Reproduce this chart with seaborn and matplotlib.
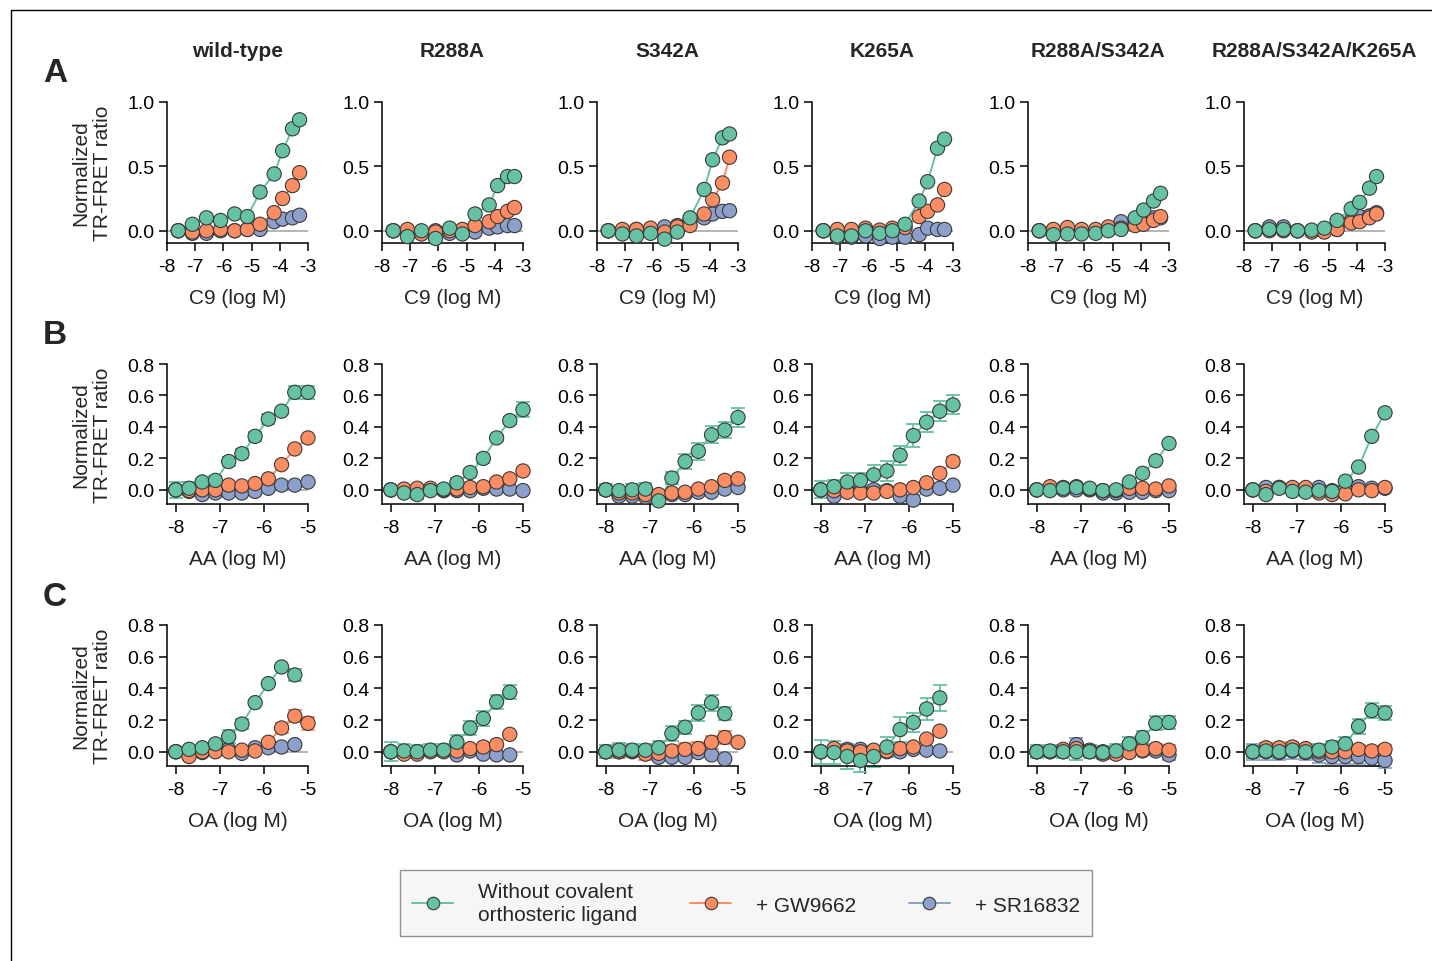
import numpy as np
import pandas as pd
import seaborn as sns
import matplotlib.pyplot as plt
from matplotlib.lines import Line2D

nan = np.nan

# ---- data ----
mutants = ['wild-type', 'R288A', 'S342A', 'K265A', 'R288A/S342A', 'R288A/S342A/K265A']
series_names = ['Without covalent\northosteric ligand', '+ GW9662', '+ SR16832']

c9_x = [-7.6, -7.1, -6.6, -6.1, -5.6, -5.15, -4.7, -4.2, -3.9, -3.55, -3.3]
fa_x = [-8.0, -7.7, -7.4, -7.1, -6.8, -6.5, -6.2, -5.9, -5.6, -5.3, -5.0]

# row A: C9
c9_green = [
    [0.0, 0.05, 0.10, 0.08, 0.13, 0.11, 0.30, 0.44, 0.62, 0.79, 0.86],
    [0.0, -0.045, 0.0, -0.06, 0.02, -0.025, 0.13, 0.20, 0.35, 0.42, 0.42],
    [0.0, -0.025, -0.04, -0.02, -0.065, -0.01, 0.10, 0.32, 0.55, 0.72, 0.75],
    [0.0, -0.04, -0.04, 0.0, -0.02, 0.0, 0.05, 0.23, 0.38, 0.64, 0.71],
    [0.0, -0.03, -0.025, -0.025, -0.02, 0.0, 0.01, 0.10, 0.16, 0.23, 0.29],
    [0.0, 0.01, 0.01, 0.0, 0.005, 0.02, 0.08, 0.17, 0.22, 0.33, 0.42],
]
c9_orange = [
    [0.0, -0.01, 0.0, 0.01, 0.0, 0.01, 0.05, 0.14, 0.25, 0.35, 0.45],
    [0.0, 0.01, -0.025, -0.01, 0.0, 0.01, 0.04, 0.07, 0.11, 0.15, 0.18],
    [0.0, 0.01, 0.01, 0.02, -0.01, 0.03, 0.04, 0.13, 0.24, 0.37, 0.57],
    [0.0, 0.01, 0.01, 0.02, 0.005, 0.02, 0.025, 0.11, 0.15, 0.20, 0.32],
    [0.0, 0.01, 0.025, 0.01, 0.01, 0.03, 0.02, 0.04, 0.05, 0.08, 0.11],
    [0.0, 0.0, 0.0, 0.0, -0.01, -0.01, 0.01, 0.06, 0.07, 0.10, 0.13],
]
c9_blue = [
    [0.0, -0.02, -0.02, 0.0, 0.0, 0.01, 0.01, 0.07, 0.09, 0.10, 0.12],
    [0.0, 0.0, -0.02, 0.0, -0.02, 0.0, -0.01, 0.02, 0.03, 0.04, 0.04],
    [0.0, 0.0, 0.01, 0.01, 0.03, 0.04, 0.08, 0.10, 0.13, 0.15, 0.155],
    [0.0, -0.05, -0.05, -0.04, -0.06, -0.05, -0.05, -0.03, 0.02, 0.01, 0.01],
    [0.0, 0.0, 0.0, 0.0, 0.0, 0.02, 0.07, 0.09, 0.10, 0.10, 0.10],
    [0.0, 0.03, 0.03, 0.0, 0.0, 0.0, 0.01, 0.08, 0.11, 0.115, 0.14],
]
c9_green_err = [
    [0.0, 0.0, 0.0, 0.0, 0.0, 0.0, 0.03, 0.0, 0.0, 0.0, 0.0],
    None, None, None, None, None,
]

# row B: AA
aa_green = [
    [0.0, 0.01, 0.05, 0.06, 0.18, 0.23, 0.34, 0.45, 0.50, 0.62, 0.62],
    [0.0, -0.02, -0.03, -0.005, 0.005, 0.045, 0.11, 0.20, 0.33, 0.44, 0.51],
    [0.0, -0.005, 0.0, 0.005, -0.07, 0.075, 0.18, 0.245, 0.35, 0.38, 0.46],
    [0.0, 0.02, 0.05, 0.06, 0.095, 0.12, 0.22, 0.345, 0.43, 0.50, 0.54],
    [0.0, -0.005, 0.01, 0.015, 0.01, -0.005, 0.0, 0.05, 0.105, 0.185, 0.295],
    [0.0, -0.03, 0.01, -0.01, -0.015, -0.005, -0.01, 0.055, 0.145, 0.34, 0.49],
]
aa_orange = [
    [0.0, -0.005, 0.0, 0.0, 0.03, 0.025, 0.04, 0.07, 0.16, 0.26, 0.33],
    [0.0, 0.005, 0.01, 0.01, 0.0, 0.005, 0.015, 0.02, 0.05, 0.07, 0.12],
    [0.0, -0.02, -0.02, -0.03, -0.03, -0.02, -0.015, 0.005, 0.02, 0.06, 0.07],
    [0.0, -0.005, -0.015, -0.02, -0.02, -0.01, 0.0, 0.015, 0.045, 0.105, 0.18],
    [0.0, 0.02, 0.015, 0.02, 0.005, -0.005, -0.005, 0.01, 0.01, 0.005, 0.025],
    [0.0, -0.01, 0.015, 0.015, 0.015, -0.02, -0.03, -0.025, 0.0, -0.005, 0.015],
]
aa_blue = [
    [0.0, -0.01, -0.03, -0.02, -0.02, -0.02, -0.01, 0.01, 0.03, 0.03, 0.05],
    [0.0, 0.0, -0.005, 0.0, -0.005, -0.005, -0.005, 0.01, 0.005, 0.005, -0.005],
    [0.0, -0.04, -0.04, -0.045, -0.04, -0.03, -0.03, -0.015, -0.015, 0.005, 0.015],
    [0.0, -0.04, -0.005, -0.005, 0.0, -0.005, -0.04, -0.065, 0.005, 0.01, 0.03],
    [0.0, 0.0, 0.0, 0.0, 0.0, -0.02, -0.02, -0.015, -0.015, -0.005, -0.005],
    [0.0, 0.015, 0.015, 0.005, -0.005, 0.015, -0.005, 0.005, 0.02, 0.01, 0.01],
]
aa_green_err = [
    [0.05, 0.04, 0.02, 0.03, 0.03, 0.03, 0.03, 0.03, 0.02, 0.04, 0.04],
    [0.0, 0.0, 0.03, 0.0, 0.0, 0.03, 0.02, 0.03, 0.02, 0.02, 0.05],
    [0.035, 0.025, 0.04, 0.04, 0.0, 0.04, 0.045, 0.055, 0.055, 0.05, 0.06],
    [0.055, 0.045, 0.06, 0.05, 0.065, 0.065, 0.06, 0.075, 0.065, 0.065, 0.06],
    None, None,
]
aa_orange_err = [
    None, None, None,
    [0.0, 0.0, 0.0, 0.0, 0.0, 0.0, 0.0, 0.0, 0.0, 0.0, 0.03],
    None, None,
]

# row C: OA
oa_green = [
    [0.0, 0.015, 0.025, 0.05, 0.095, 0.175, 0.31, 0.43, 0.535, 0.485, nan],
    [0.0, 0.005, 0.0, 0.01, 0.01, 0.06, 0.15, 0.21, 0.315, 0.375, nan],
    [0.0, 0.01, 0.01, 0.01, 0.025, 0.115, 0.155, 0.245, 0.31, 0.24, nan],
    [0.0, -0.005, -0.03, -0.055, -0.03, 0.03, 0.14, 0.185, 0.27, 0.34, nan],
    [0.0, 0.005, 0.0, 0.0, 0.0, -0.005, 0.005, 0.05, 0.09, 0.18, 0.185],
    [0.0, 0.005, 0.0, 0.01, 0.0, 0.01, 0.03, 0.05, 0.16, 0.26, 0.245],
]
oa_orange = [
    [0.0, -0.03, 0.0, 0.0, 0.0, 0.01, 0.005, 0.06, 0.15, 0.225, 0.18],
    [0.0, -0.015, -0.015, 0.0, 0.0, 0.005, 0.02, 0.03, 0.045, 0.11, nan],
    [0.0, 0.0, 0.005, -0.015, -0.01, 0.005, 0.015, 0.02, 0.06, 0.09, 0.06],
    [0.0, 0.02, 0.005, 0.0, 0.01, 0.005, 0.02, 0.03, 0.08, 0.13, nan],
    [0.0, 0.0, 0.015, 0.02, 0.0, -0.015, -0.015, -0.005, 0.01, 0.02, 0.01],
    [0.0, 0.025, 0.025, 0.03, 0.02, 0.0, 0.0, 0.0, 0.015, 0.005, 0.015],
]
oa_blue = [
    [0.0, -0.02, -0.005, 0.005, 0.015, -0.01, 0.025, 0.025, 0.03, 0.045, nan],
    [0.0, 0.0, 0.0, 0.005, 0.005, -0.02, 0.005, -0.015, -0.02, -0.02, nan],
    [0.0, 0.0, 0.0, 0.0, -0.035, -0.035, -0.035, -0.005, -0.02, -0.045, nan],
    [0.0, 0.0, 0.015, 0.015, 0.005, 0.0, 0.0, 0.015, 0.01, 0.005, nan],
    [0.0, 0.0, 0.0, 0.045, 0.01, 0.0, -0.005, 0.005, 0.005, 0.005, -0.02],
    [0.0, 0.0, -0.005, 0.005, -0.005, -0.02, -0.03, -0.03, -0.03, -0.04, -0.055],
]
oa_green_err = [
    [0.0, 0.0, 0.0, 0.0, 0.04, 0.03, 0.0, 0.0, 0.0, 0.04, nan],
    [0.06, 0.045, 0.04, 0.04, 0.04, 0.045, 0.045, 0.045, 0.045, 0.045, nan],
    [0.04, 0.045, 0.04, 0.04, 0.04, 0.045, 0.04, 0.05, 0.05, 0.04, nan],
    [0.075, 0.07, 0.08, 0.07, 0.065, 0.065, 0.08, 0.06, 0.07, 0.08, nan],
    [0.04, 0.04, 0.04, 0.05, 0.04, 0.04, 0.045, 0.045, 0.04, 0.045, 0.04],
    [0.04, 0.04, 0.04, 0.04, 0.04, 0.04, 0.04, 0.04, 0.045, 0.045, 0.045],
]
oa_orange_err = [
    [0.0, 0.0, 0.0, 0.0, 0.0, 0.0, 0.0, 0.0, 0.03, 0.04, 0.04],
    None,
    [0.04, 0.04, 0.04, 0.04, 0.04, 0.04, 0.04, 0.04, 0.04, 0.04, 0.0],
    None,
    [0.03, 0.03, 0.03, 0.03, 0.03, 0.03, 0.03, 0.03, 0.03, 0.03, 0.03],
    [0.03, 0.03, 0.03, 0.03, 0.03, 0.03, 0.03, 0.03, 0.03, 0.03, 0.03],
]
oa_blue_err = [
    None, None, None, None,
    [0.0, 0.0, 0.0, 0.04, 0.035, 0.0, 0.0, 0.0, 0.0, 0.0, 0.03],
    [0.05, 0.05, 0.05, 0.05, 0.05, 0.05, 0.05, 0.05, 0.05, 0.05, 0.05],
]

rows = [
    dict(letter='A', xlabel='C9 (log M)', x=c9_x, xlim=(-8, -3), xticks=range(-8, -2),
         ylim=(-0.095, 1.0), yticks=[0.0, 0.5, 1.0], fmt='{:.1f}',
         ys=(c9_green, c9_orange, c9_blue), errs=(c9_green_err, None, None),
         top=102.7, bottom=244),
    dict(letter='B', xlabel='AA (log M)', x=fa_x, xlim=(-8.2, -5), xticks=range(-8, -4),
         ylim=(-0.09, 0.8), yticks=[0.0, 0.2, 0.4, 0.6, 0.8], fmt='{:.1f}',
         ys=(aa_green, aa_orange, aa_blue), errs=(aa_green_err, aa_orange_err, None),
         top=365, bottom=505),
    dict(letter='C', xlabel='OA (log M)', x=fa_x, xlim=(-8.2, -5), xticks=range(-8, -4),
         ylim=(-0.09, 0.8), yticks=[0.0, 0.2, 0.4, 0.6, 0.8], fmt='{:.1f}',
         ys=(oa_green, oa_orange, oa_blue), errs=(oa_green_err, oa_orange_err, oa_blue_err),
         top=626, bottom=767),
]

# ---- style ----
sns.set_theme(style='ticks')
plt.rcParams['font.family'] = ['Liberation Sans', 'DejaVu Sans']
plt.rcParams['axes.unicode_minus'] = False
palette = sns.color_palette('Set2', 3)  # green, orange, blue
edge = '#3a3a3a'

W, H = 1432, 962
fig = plt.figure(figsize=(W / 100, H / 100), dpi=100)

col_left = [167, 382, 597, 812, 1028, 1244]
ax_w = 141

for r, row in enumerate(rows):
    for c, mut in enumerate(mutants):
        left = col_left[c]
        ax = fig.add_axes([left / W, 1 - row['bottom'] / H, ax_w / W,
                           (row['bottom'] - row['top']) / H])

        frames = []
        for s in (2, 1, 0):  # blue, orange, green -> green ends on top
            frames.append(pd.DataFrame({'x': row['x'], 'y': row['ys'][s][c],
                                        'series': series_names[s]}))
        df = pd.concat(frames, ignore_index=True).dropna()
        pal = dict(zip(series_names, palette))

        ax.axhline(0, color='#a8a8a8', lw=1.2, zorder=0)
        sns.lineplot(data=df, x='x', y='y', hue='series', palette=pal, lw=1.4,
                     estimator=None, legend=False, ax=ax, zorder=1, clip_on=False)
        for s in (2, 1, 0):
            err = row['errs'][s]
            if err is None or err[c] is None:
                continue
            e = np.array(err[c], dtype=float)
            y = np.array(row['ys'][s][c], dtype=float)
            m = (e > 0) & ~np.isnan(y)
            eb = ax.errorbar(np.array(row['x'])[m], y[m], yerr=e[m], fmt='none',
                             ecolor=palette[s], elinewidth=1.3, capsize=5, capthick=1.3,
                             zorder=2)
            for art in eb.lines[1] + eb.lines[2]:
                art.set_clip_on(False)
        sns.scatterplot(data=df, x='x', y='y', hue='series', palette=pal, s=105,
                        edgecolor=edge, linewidth=0.8, legend=False, ax=ax, zorder=3,
                        clip_on=False)

        ax.set_xlim(*row['xlim'])
        ax.set_ylim(*row['ylim'])
        ax.set_xticks(list(row['xticks']))
        ax.set_xticklabels([str(t) for t in row['xticks']])
        ax.set_yticks(row['yticks'])
        ax.set_yticklabels([row['fmt'].format(t) for t in row['yticks']])
        ax.tick_params(axis='both', length=6, width=1.1, labelsize=14, pad=3,
                       color='black', labelcolor='black')
        ax.tick_params(axis='x', pad=5)
        for sp in ('left', 'bottom'):
            ax.spines[sp].set_linewidth(1.1)
            ax.spines[sp].set_color('black')
        sns.despine(ax=ax)
        ax.set_xlabel(row['xlabel'], fontsize=15, labelpad=9)
        ax.set_ylabel('')
        if r == 0:
            ax.set_title(mut, fontsize=15, fontweight='bold', pad=33)

    yc = (row['top'] + row['bottom']) / 2
    fig.text(92 / W, 1 - yc / H, 'Normalized\nTR-FRET ratio', rotation=90,
             ha='center', va='center', fontsize=15, linespacing=1.2)
    fig.text(55 / W, 1 - (row['top'] - 29) / H, row['letter'], ha='center',
             va='center', fontsize=24, fontweight='bold')

# legend
handles = [Line2D([], [], color=palette[s], lw=1.4, marker='o', markersize=9,
                  markeredgecolor=edge, markeredgewidth=0.8) for s in range(3)]
leg = fig.legend(handles, series_names, loc='center',
                 bbox_to_anchor=(746 / W, 1 - 904 / H), ncol=3, fontsize=15,
                 handlelength=2.0, handletextpad=1.2, columnspacing=2.5,
                 borderpad=0.55, fancybox=False, frameon=True)
leg.get_frame().set_facecolor('#f4f4f4')
leg.get_frame().set_edgecolor('#777777')
leg.get_frame().set_linewidth(1.0)
for t in leg.get_texts():
    t.set_linespacing(1.3)

# outer frame lines (top and left)
fig.add_artist(Line2D([11 / W, 1], [1 - 11 / H, 1 - 11 / H], color='black', lw=1.0))
fig.add_artist(Line2D([11 / W, 11 / W], [1 - 11 / H, 0], color='black', lw=1.0))

fig.savefig('out.png', dpi=100, facecolor='white')
